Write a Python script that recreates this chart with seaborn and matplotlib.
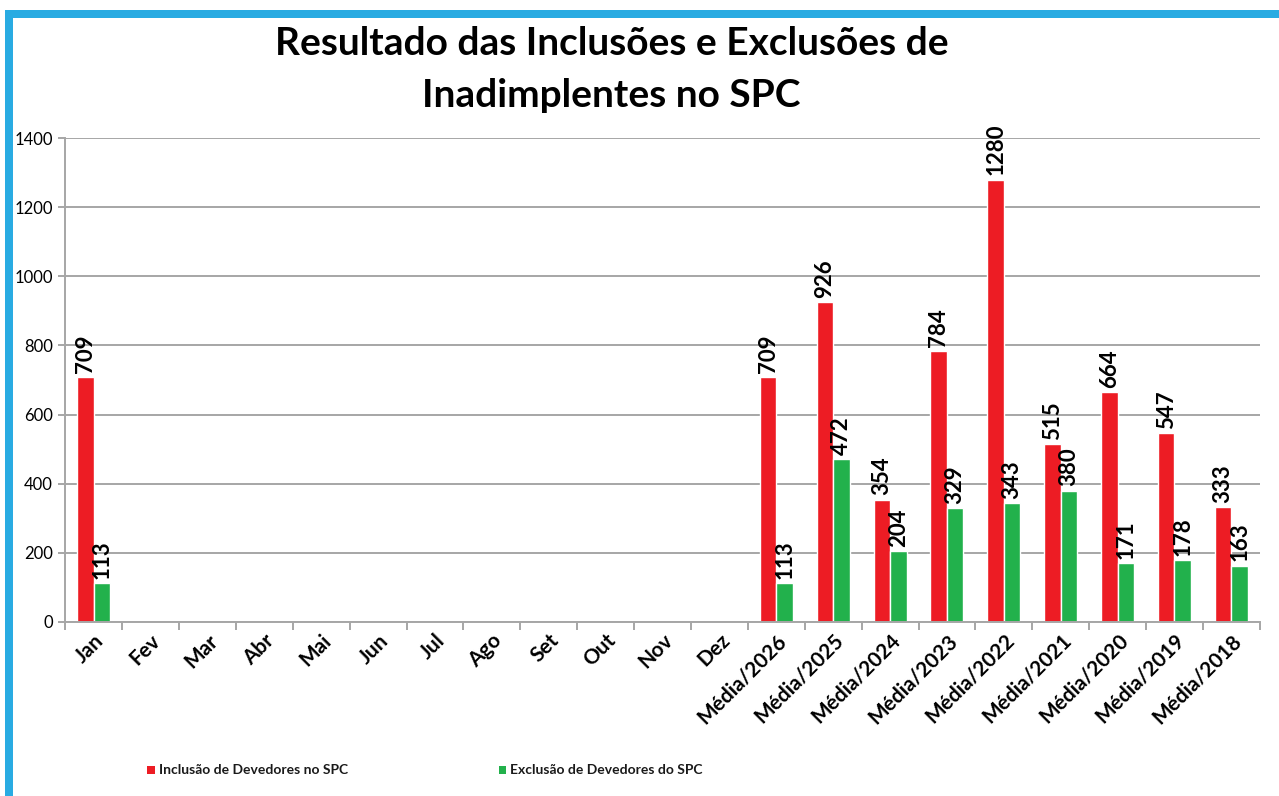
import pandas as pd
import numpy as np
import matplotlib.pyplot as plt
import seaborn as sns
from matplotlib.patches import Rectangle

# Data
categorias = ['Jan', 'Fev', 'Mar', 'Abr', 'Mai', 'Jun', 'Jul', 'Ago', 'Set', 'Out', 'Nov', 'Dez',
              'Média/2026', 'Média/2025', 'Média/2024', 'Média/2023', 'Média/2022',
              'Média/2021', 'Média/2020', 'Média/2019', 'Média/2018']
inclusao = [709, None, None, None, None, None, None, None, None, None, None, None,
            709, 926, 354, 784, 1280, 515, 664, 547, 333]
exclusao = [113, None, None, None, None, None, None, None, None, None, None, None,
            113, 472, 204, 329, 343, 380, 171, 178, 163]
series = ['Inclusão de Devedores no SPC', 'Exclusão de Devedores do SPC']
cores = ['#ED1C24', '#22B14C']

rows = []
for cat, a, b in zip(categorias, inclusao, exclusao):
    if a is not None:
        rows.append({'Mes': cat, 'Serie': series[0], 'Valor': a})
    if b is not None:
        rows.append({'Mes': cat, 'Serie': series[1], 'Valor': b})
df = pd.DataFrame(rows)

sns.set_theme(style="white")
plt.rcParams['font.family'] = ['Lato', 'DejaVu Sans']
plt.rcParams['text.color'] = 'black'
plt.rcParams['xtick.color'] = 'black'
plt.rcParams['ytick.color'] = 'black'

fig = plt.figure(figsize=(12.79, 7.96), dpi=100)
ax = fig.add_axes([0.051, 0.2186, 0.934, 0.608])

sns.barplot(data=df, x='Mes', y='Valor', hue='Serie', order=categorias, hue_order=series,
            palette=cores, width=0.58, saturation=1, ax=ax, errorbar=None, legend=False)

for cont in ax.containers:
    ax.bar_label(cont, fmt='%d', rotation=90, padding=3, fontsize=16, fontweight='bold',
                 color='black')

ax.set_ylim(0, 1400)
ax.set_yticks(range(0, 1401, 200))
ax.set_xlim(-0.5, len(categorias) - 0.5)
ax.yaxis.grid(True, color='#A6A6A6', linewidth=1.4)
ax.set_axisbelow(True)
for s in ['top', 'right']:
    ax.spines[s].set_visible(False)
for s in ['left', 'bottom']:
    ax.spines[s].set_color('#A6A6A6')
    ax.spines[s].set_linewidth(1.4)

# ticks between categories on x-axis
ax.set_xticks(np.arange(len(categorias)))
ax.set_xticks(np.arange(-0.5, len(categorias)), minor=True)
ax.tick_params(axis='x', which='major', length=0, pad=6)
ax.tick_params(axis='x', which='minor', length=6, color='#A6A6A6', width=1.4, bottom=True)
ax.tick_params(axis='y', length=5, color='#A6A6A6', width=1.4, left=True, labelsize=12,
               pad=4, labelcolor='black')
ax.set_xticklabels(categorias, rotation=45, ha='right', rotation_mode='anchor',
                   fontsize=15, fontweight='bold', color='black')
ax.set_xlabel('')
ax.set_ylabel('')

fig.text(0.478, 0.945, 'Resultado das Inclusões e Exclusões de', ha='center', va='center',
         fontsize=28, fontweight='bold', color='black')
fig.text(0.478, 0.880, 'Inadimplentes no SPC', ha='center', va='center',
         fontsize=28, fontweight='bold', color='black')

# legend at bottom
for x0, nome, cor in zip([0.115, 0.39], series, cores):
    fig.patches.append(Rectangle((x0, 0.028), 0.006, 0.01, transform=fig.transFigure,
                                 facecolor=cor, edgecolor='none'))
    fig.text(x0 + 0.009, 0.033, nome, ha='left', va='center', fontsize=10, fontweight='bold',
             color='#1a1a1a')

# blue frame (top and left)
fig.patches.append(Rectangle((5 / 1279, 0), 8 / 1279, 1 - 10 / 796, transform=fig.transFigure,
                             facecolor='#29ABE2', edgecolor='none'))
fig.patches.append(Rectangle((5 / 1279, 1 - 18 / 796), 1, 8 / 796, transform=fig.transFigure,
                             facecolor='#29ABE2', edgecolor='none'))

fig.savefig('out.png', dpi=100, facecolor='white')
